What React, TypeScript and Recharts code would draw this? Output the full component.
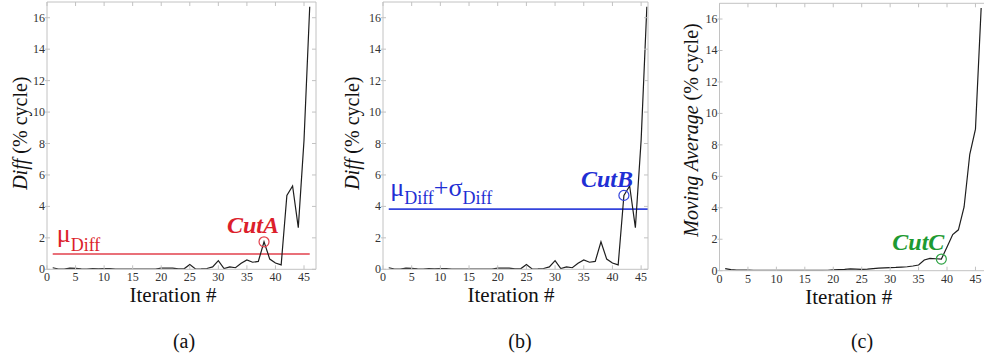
import React from "react";
import { LineChart, Line, XAxis, YAxis, ReferenceLine, ReferenceDot } from "recharts";

// iteration number on the x axis
const iterations = [
  1, 2, 3, 4, 5, 6, 7, 8, 9, 10, 11, 12, 13, 14, 15, 16, 17, 18, 19, 20, 21, 22, 23,
  24, 25, 26, 27, 28, 29, 30, 31, 32, 33, 34, 35, 36, 37, 38, 39, 40, 41, 42, 43, 44, 45, 46,
];

// Diff (% cycle), panels (a) and (b)
const diffValues = [
  0.1, 0.02, 0.02, 0.07, 0.06, 0.03, 0.02, 0.05, 0.03, 0.05, 0.05, 0.02, 0.02, 0.02, 0.02,
  0.02, 0.02, 0.02, 0.02, 0.07, 0.08, 0.08, 0.03, 0.03, 0.3, 0.02, 0.03, 0.05, 0.15, 0.55,
  0.05, 0.15, 0.1, 0.38, 0.6, 0.45, 0.5, 1.75, 0.65, 0.4, 0.28, 4.7, 5.3, 2.65, 8.2, 16.7,
];

// Moving Average (% cycle), panel (c)
const movingAverage = [
  0.13, 0.07, 0.04, 0.04, 0.04, 0.03, 0.03, 0.03, 0.03, 0.03, 0.02, 0.02, 0.02, 0.02, 0.02,
  0.02, 0.02, 0.02, 0.03, 0.05, 0.07, 0.09, 0.12, 0.1, 0.08, 0.1, 0.13, 0.16, 0.18, 0.2,
  0.21, 0.23, 0.25, 0.3, 0.36, 0.68, 0.78, 0.76, 0.74, 1.5, 2.3, 2.6, 4.05, 7.4, 9.0, 16.7,
];

const xTicks = [0, 5, 10, 15, 20, 25, 30, 35, 40, 45];
const yTicks = [0, 2, 4, 6, 8, 10, 12, 14, 16];

const muDiff = 0.97;
const muPlusSigmaDiff = 3.83;
const cutAIter = 38;
const cutBIter = 42;
const cutCIter = 39;
const panelNames = ["(a)", "(b)", "(c)"];

const diffData = iterations.map((it, i) => ({ it, v: diffValues[i] }));
const avgData = iterations.map((it, i) => ({ it, v: movingAverage[i] }));

const SERIF = "'Liberation Serif', 'Times New Roman', 'DejaVu Serif', serif";
const FONT = { fontFamily: SERIF };
const BOX = "#c2c2c2";
const TXT = "#333";
const RED = "#dc1f2c";
const BLUE = "#1f2fd4";
const GREEN = "#1e9a32";

function BottomTick(props: any) {
  const { x, y, payload } = props;
  return (
    <g>
      <line x1={x} x2={x} y1={y} y2={y - 4} stroke={BOX} />
      <text x={x} y={y + 12} textAnchor="middle" fontSize={12} style={FONT} fill={TXT}>
        {payload.value}
      </text>
    </g>
  );
}

function TopTick(props: any) {
  const { x, y } = props;
  return <line x1={x} x2={x} y1={y} y2={y + 4} stroke={BOX} />;
}

function LeftTick(props: any) {
  const { x, y, payload } = props;
  return (
    <g>
      <line x1={x - 2} x2={x + 3} y1={y} y2={y} stroke={BOX} />
      <text x={x - 2} y={y + 4} textAnchor="end" fontSize={12} style={FONT} fill={TXT}>
        {payload.value}
      </text>
    </g>
  );
}

function RightTick(props: any) {
  const { x, y } = props;
  return <line x1={x} x2={x - 4} y1={y} y2={y} stroke={BOX} />;
}

function XTitle(props: any) {
  const { viewBox, dx } = props;
  return (
    <text
      x={viewBox.x + viewBox.width / 2 + dx}
      y={viewBox.y + 33}
      textAnchor="middle"
      fontSize={21}
      style={FONT}
      fill="#111"
    >
      Iteration #
    </text>
  );
}

function YTitle(props: any) {
  const { viewBox, dx, dy, italic, rest } = props;
  const x = viewBox.x + viewBox.width + dx;
  const y = viewBox.y + viewBox.height / 2 + dy;
  return (
    <text
      x={x}
      y={y}
      transform={`rotate(-90, ${x}, ${y})`}
      textAnchor="middle"
      fontSize={20}
      style={FONT}
      fill="#111"
    >
      <tspan fontStyle="italic">{italic}</tspan>
      <tspan>{rest}</tspan>
    </text>
  );
}

function CutLabel(props: any) {
  const { viewBox, text, color, dx, dy } = props;
  const cx = viewBox.x + viewBox.width / 2;
  const cy = viewBox.y + viewBox.height / 2;
  return (
    <text
      x={cx + dx}
      y={cy + dy}
      textAnchor="middle"
      fontSize={24}
      fontWeight="bold"
      fontStyle="italic"
      style={FONT}
      fill={color}
    >
      {text}
    </text>
  );
}

function MuLabel(props: any) {
  const { viewBox } = props;
  return (
    <text x={viewBox.x + 4} y={viewBox.y - 12.5} style={FONT} fill={RED} fontSize={26}>
      μ
      <tspan fontSize={18} dy={9}>
        Diff
      </tspan>
    </text>
  );
}

function MuSigmaLabel(props: any) {
  const { viewBox } = props;
  return (
    <text x={viewBox.x + 1.5} y={viewBox.y - 13} style={FONT} fill={BLUE} fontSize={26}>
      μ
      <tspan fontSize={18} dy={8}>
        Diff
      </tspan>
      <tspan fontSize={26} dy={-8}>
        +σ
      </tspan>
      <tspan fontSize={18} dy={8}>
        Diff
      </tspan>
    </text>
  );
}

function Axes({ xMax, titleDx, yDx, yDy, italic, rest, showRight }: any) {
  const list = [
    <XAxis
      key="xb"
      dataKey="it"
      type="number"
      domain={[0, xMax]}
      ticks={xTicks}
      allowDataOverflow
      height={1}
      tickSize={0}
      tickMargin={0}
      axisLine={{ stroke: BOX }}
      tickLine={false}
      tick={<BottomTick />}
      label={<XTitle dx={titleDx} />}
    />,
    <XAxis
      key="xt"
      xAxisId="top"
      orientation="top"
      dataKey="it"
      type="number"
      domain={[0, xMax]}
      ticks={xTicks}
      allowDataOverflow
      height={1}
      tickSize={0}
      tickMargin={0}
      axisLine={{ stroke: BOX }}
      tickLine={false}
      tick={<TopTick />}
    />,
    <YAxis
      key="yl"
      type="number"
      domain={[0, 17]}
      ticks={yTicks}
      allowDataOverflow
      width={1}
      tickSize={0}
      tickMargin={0}
      axisLine={{ stroke: BOX }}
      tickLine={false}
      tick={<LeftTick />}
      label={<YTitle dx={yDx} dy={yDy} italic={italic} rest={rest} />}
    />,
  ];
  if (showRight) {
    list.push(
      <YAxis
        key="yr"
        yAxisId="right"
        orientation="right"
        type="number"
        domain={[0, 17]}
        ticks={yTicks}
        allowDataOverflow
        width={1}
        tickSize={0}
        tickMargin={0}
        axisLine={{ stroke: BOX }}
        tickLine={false}
        tick={<RightTick />}
      />
    );
  }
  return list;
}

export default function App() {
  const cutA = diffValues[iterations.indexOf(cutAIter)];
  const cutB = diffValues[iterations.indexOf(cutBIter)];
  const cutC = movingAverage[iterations.indexOf(cutCIter)];
  return (
    <div
      style={{
        position: "absolute",
        left: 0,
        top: 0,
        width: 984,
        height: 363,
        background: "#fff",
        overflow: "hidden",
        fontFamily: SERIF,
      }}
    >
      <div style={{ position: "absolute", left: 0, top: 0 }}>
        <LineChart
          width={330}
          height={320}
          data={diffData}
          margin={{ top: 1, left: 46, right: 13, bottom: 49.7 }}
          style={FONT}
        >
          {Axes({
            xMax: 47.1,
            titleDx: -8.5,
            yDx: -20,
            yDy: -2.5,
            italic: "Diff",
            rest: " (% cycle)",
            showRight: true,
          })}
          <ReferenceLine
            segment={[
              { x: 1, y: muDiff },
              { x: 46, y: muDiff },
            ]}
            stroke="#e2404c"
            strokeWidth={1.6}
            label={<MuLabel />}
          />
          <Line dataKey="v" stroke="#1e1e1e" strokeWidth={1.2} dot={false} isAnimationActive={false} />
          <ReferenceDot
            x={cutAIter}
            y={cutA}
            r={5}
            fill="none"
            stroke="#e2404c"
            strokeWidth={1.2}
            label={<CutLabel text="CutA" color={RED} dx={-11} dy={-9} />}
          />
        </LineChart>
      </div>

      <div style={{ position: "absolute", left: 330, top: 0 }}>
        <LineChart
          width={330}
          height={320}
          data={diffData}
          margin={{ top: 1, left: 52, right: 11, bottom: 49.7 }}
          style={FONT}
        >
          {Axes({
            xMax: 46.2,
            titleDx: -4.5,
            yDx: -24,
            yDy: -2.5,
            italic: "Diff",
            rest: " (% cycle)",
            showRight: true,
          })}
          <ReferenceLine
            segment={[
              { x: 1, y: muPlusSigmaDiff },
              { x: 46.2, y: muPlusSigmaDiff },
            ]}
            stroke="#3444dc"
            strokeWidth={1.6}
            label={<MuSigmaLabel />}
          />
          <Line dataKey="v" stroke="#1e1e1e" strokeWidth={1.2} dot={false} isAnimationActive={false} />
          <ReferenceDot
            x={cutBIter}
            y={cutB}
            r={5}
            fill="none"
            stroke="#3444dc"
            strokeWidth={1.2}
            label={<CutLabel text="CutB" color={BLUE} dx={-17} dy={-8} />}
          />
        </LineChart>
      </div>

      <div style={{ position: "absolute", left: 660, top: 0 }}>
        <LineChart
          width={324}
          height={320}
          data={avgData}
          margin={{ top: 2.3, left: 58.5, right: 0, bottom: 48.3 }}
          style={FONT}
        >
          {Axes({
            xMax: 46.5,
            titleDx: -3,
            yDx: -21.5,
            yDy: -7,
            italic: "Moving Average",
            rest: " (% cycle)",
            showRight: false,
          })}
          <Line dataKey="v" stroke="#1e1e1e" strokeWidth={1.2} dot={false} isAnimationActive={false} />
          <ReferenceDot
            x={cutCIter}
            y={cutC}
            r={5}
            fill="none"
            stroke="#2ea344"
            strokeWidth={1.2}
            label={<CutLabel text="CutC" color={GREEN} dx={-23} dy={-9} />}
          />
        </LineChart>
      </div>

      {panelNames.map((name, i) => (
        <div
          key={name}
          style={{
            position: "absolute",
            left: [184, 520, 862][i] - 20,
            width: 40,
            top: 330,
            textAlign: "center",
            fontSize: 20,
            lineHeight: "22px",
            color: "#111",
          }}
        >
          {name}
        </div>
      ))}
    </div>
  );
}
